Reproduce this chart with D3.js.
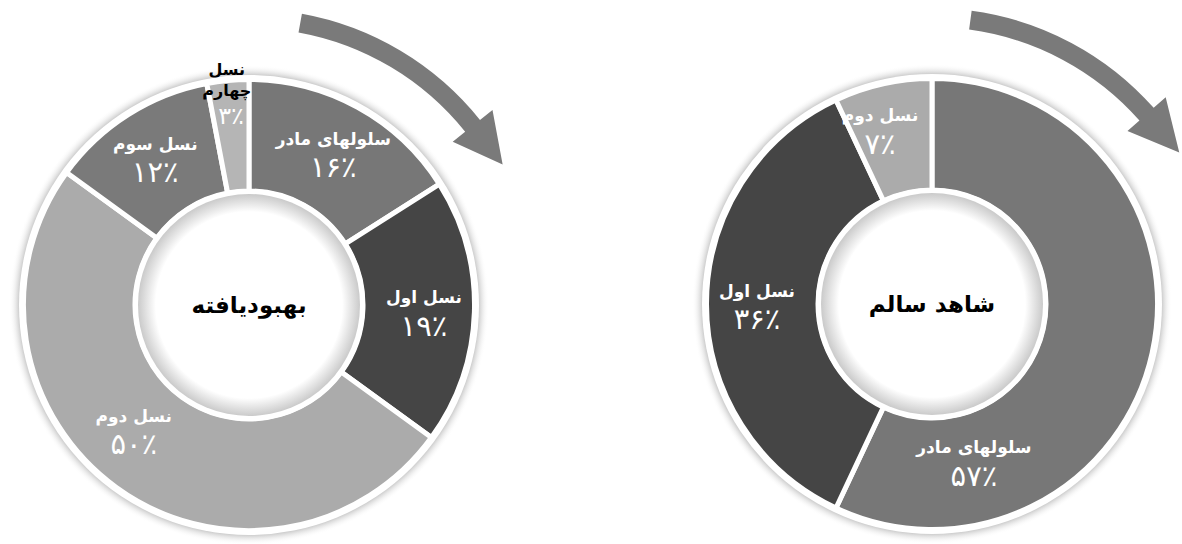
<!DOCTYPE html>
<html>
<head>
<meta charset="utf-8">
<script src="https://cdn.jsdelivr.net/npm/d3@7"></script>
<style>
  body { margin: 0; background: #ffffff; }
  svg { display: block; font-family: "DejaVu Sans", sans-serif; }
</style>
</head>
<body>
<svg id="viz" width="1182" height="544"></svg>
<script>
// data
var categories = ["سلولهای مادر", "نسل اول", "نسل دوم", "نسل سوم", "نسل چهارم"];
var improvedValues = [16, 19, 50, 12, 3];
var healthyValues = [57, 36, 7];
var chartTitles = ["بهبودیافته", "شاهد سالم"];

var colors = d3.scaleOrdinal()
  .domain(categories)
  .range(["#777777", "#454545", "#ababab", "#7a7a7a", "#b5b5b5"]);

var faDigits = "۰۱۲۳۴۵۶۷۸۹";
function fa(n) {
  return String(n).replace(/[0-9]/g, function(c) { return faDigits[+c]; }) + "٪";
}

var svg = d3.select("#viz");
var defs = svg.append("defs");

var g1 = defs.append("radialGradient").attr("id", "outerShade");
g1.append("stop").attr("offset", 0.95).attr("stop-color", "#b8b8b8");
g1.append("stop").attr("offset", 1).attr("stop-color", "#ffffff").attr("stop-opacity", 0);

var g2 = defs.append("radialGradient").attr("id", "innerShade");
g2.append("stop").attr("offset", 0.84).attr("stop-color", "#ffffff");
g2.append("stop").attr("offset", 1).attr("stop-color", "#cacaca");

var rad = Math.PI / 180;

// chart layout (not data); labelAt = [angle, radius] for labels moved off the slice middle
var charts = [
  { cx: 249, cy: 305, values: improvedValues, title: chartTitles[0],
    arrow: { a0: 10.3, a1: 51.3, tip: 61 }, labelAt: { 2: [223, 169] } },
  { cx: 932, cy: 304, values: healthyValues, title: chartTitles[1],
    arrow: { a0: 7.7, a1: 48.5, tip: 58.5 }, labelAt: { 0: [165, 162], 2: [343.5, 183] } }
];

var rOuter = 225.5, rInner = 114, rLabel = 175;

var pie = d3.pie().sort(null).value(function(d) { return d.v; });
var arc = d3.arc().innerRadius(rInner).outerRadius(rOuter);

function pt(r, deg) {
  return [r * Math.sin(deg * rad), -r * Math.cos(deg * rad)];
}

charts.forEach(function(c) {
  var data = c.values.map(function(v, i) { return { k: categories[i], v: v }; });
  var g = svg.append("g").attr("transform", "translate(" + c.cx + "," + c.cy + ")");

  g.append("circle").attr("r", 240).attr("fill", "url(#outerShade)");
  g.append("circle").attr("r", 230).attr("fill", "#ffffff");

  var arcs = pie(data);
  g.selectAll("path.slice").data(arcs).enter().append("path")
    .attr("class", "slice")
    .attr("d", arc)
    .attr("fill", function(d) { return colors(d.data.k); })
    .attr("stroke", "#ffffff")
    .attr("stroke-width", 5);

  g.append("circle").attr("r", 116).attr("fill", "#ffffff");
  g.append("circle").attr("r", 111).attr("fill", "url(#innerShade)");

  g.append("text")
    .attr("text-anchor", "middle")
    .attr("direction", "rtl")
    .attr("dy", "0.35em")
    .attr("font-size", 23)
    .attr("font-weight", "bold")
    .attr("fill", "#000")
    .text(c.title);

  arcs.forEach(function(d, i) {
    var mid = (d.startAngle + d.endAngle) / 2 / rad;
    var small = d.data.v < 5;
    var p;
    if (c.labelAt[i]) p = pt(c.labelAt[i][1], c.labelAt[i][0]);
    else if (small) p = pt(190, mid);
    else p = pt(rLabel, mid);

    var lab = g.append("g").attr("transform", "translate(" + p[0] + "," + p[1] + ")");
    if (small) {
      // name sits above the ring in black, percent stays inside the slice
      var q = pt(237, mid);
      d.data.k.split(" ").forEach(function(w, j) {
        g.append("text")
          .attr("x", q[0]).attr("y", q[1] + j * 21)
          .attr("text-anchor", "middle").attr("direction", "rtl")
          .attr("dy", "0.35em").attr("font-size", 16).attr("font-weight", "bold")
          .attr("fill", "#000").text(w);
      });
      lab.append("text")
        .attr("text-anchor", "middle").attr("direction", "rtl")
        .attr("dy", "0.35em").attr("font-size", 24)
        .attr("fill", "#ffffff").text(fa(d.data.v));
    } else {
      lab.append("text")
        .attr("y", -13)
        .attr("text-anchor", "middle").attr("direction", "rtl")
        .attr("dy", "0.35em").attr("font-size", 17).attr("font-weight", "bold")
        .attr("fill", "#ffffff").text(d.data.k);
      lab.append("text")
        .attr("y", 15)
        .attr("text-anchor", "middle").attr("direction", "rtl")
        .attr("dy", "0.35em").attr("font-size", 29)
        .attr("fill", "#ffffff").text(fa(d.data.v));
    }
  });

  // curved arrow round the top right
  var a = c.arrow, rIn = 277, rOut = 296;
  var s0 = (a.a0 - 90) * rad, s1 = (a.a1 - 90) * rad;
  var path = d3.path();
  var p0 = pt(rOut, a.a0);
  path.moveTo(p0[0], p0[1]);
  path.arc(0, 0, rOut, s0, s1, false);
  var h1 = pt(312, a.a1), tp = pt(290, a.tip), h2 = pt(261, a.a1), i1 = pt(rIn, a.a1);
  path.lineTo(h1[0], h1[1]);
  path.lineTo(tp[0], tp[1]);
  path.lineTo(h2[0], h2[1]);
  path.lineTo(i1[0], i1[1]);
  path.arc(0, 0, rIn, s1, s0, true);
  path.closePath();
  g.append("path").attr("d", path.toString()).attr("fill", "#7a7a7a");
});
</script>
</body>
</html>
